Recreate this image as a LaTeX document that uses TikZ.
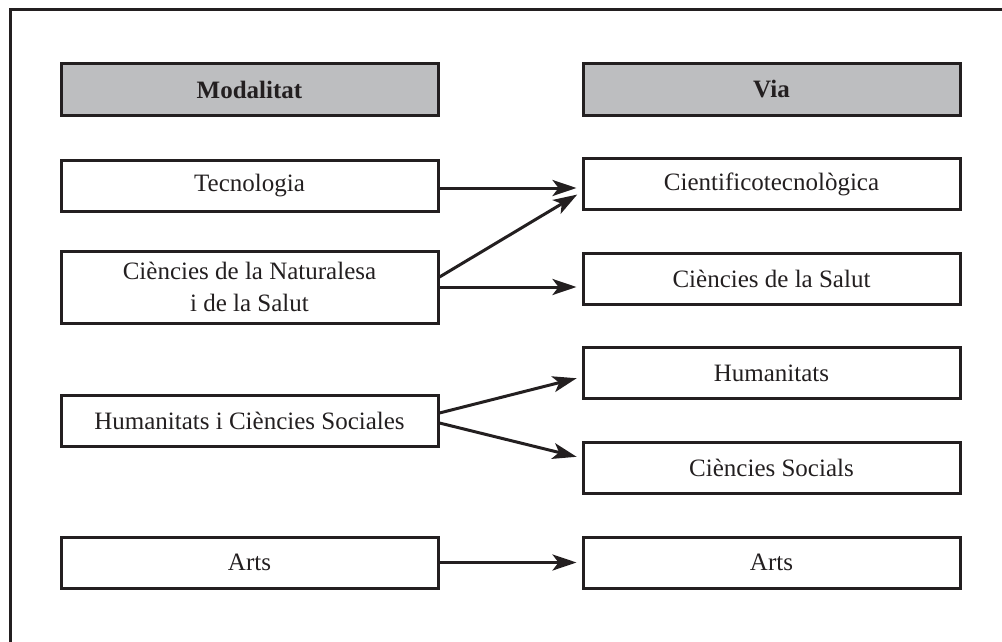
\documentclass[tikz,border=0pt]{standalone}
\usepackage{fontspec}
\setmainfont{Liberation Serif}
\usetikzlibrary{arrows.meta}
\definecolor{ink}{HTML}{231F20}
\definecolor{hdr}{HTML}{BDBEC0}
\begin{document}
\begin{tikzpicture}[x=1pt,y=-1pt,
  box/.style={draw=ink,line width=3pt,rectangle,minimum width=377pt,minimum height=51pt,inner sep=0pt,align=center,text=ink,font=\fontsize{25}{32}\selectfont},
  hbox/.style={box,fill=hdr,font=\fontsize{25}{32}\selectfont\bfseries},
  arr/.style={draw=ink,line width=3pt,-{Stealth[length=24pt,width=16pt,inset=6pt]},shorten >=5pt}]
\useasboundingbox (0,0) rectangle (1002,642);
\draw[ink,line width=3pt] (10,642) -- (10,10) -- (1002,10);
% left column
\node[hbox] (hm) at (249.5,89.5) {Modalitat};
\node[box] (tec) at (249.5,186) {Tecnologia};
\node[box,minimum height=72pt] (nat) at (249.5,287) {Ciències de la Naturalesa\\i de la Salut};
\node[box] (hcs) at (249.5,420.5) {Humanitats i Ciències Sociales};
\node[box] (arl) at (249.5,562.5) {Arts};
% right column
\node[hbox] (hv) at (771.5,89.5) {Via};
\node[box] (cie) at (771.5,184) {Cientificotecnològica};
\node[box] (sal) at (771.5,278.5) {Ciències de la Salut};
\node[box] (hum) at (771.5,373) {Humanitats};
\node[box] (soc) at (771.5,467.5) {Ciències Socials};
\node[box] (arr) at (771.5,562.5) {Arts};
% arrows
\draw[arr] ([yshift=-2pt]tec.east) -- ([yshift=-2pt]tec.east -| cie.west);
\draw[arr] ([yshift=10pt]nat.east) -- ([yshift=-8pt]cie.west);
\draw[arr] (nat.east) -- (nat.east -| sal.west);
\draw[arr] ([yshift=7.5pt]hcs.east) -- ([yshift=-4pt]hum.west);
\draw[arr] ([yshift=-2.5pt]hcs.east) -- ([yshift=9.5pt]soc.west);
\draw[arr] (arl.east) -- (arr.west);
\end{tikzpicture}
\end{document}
